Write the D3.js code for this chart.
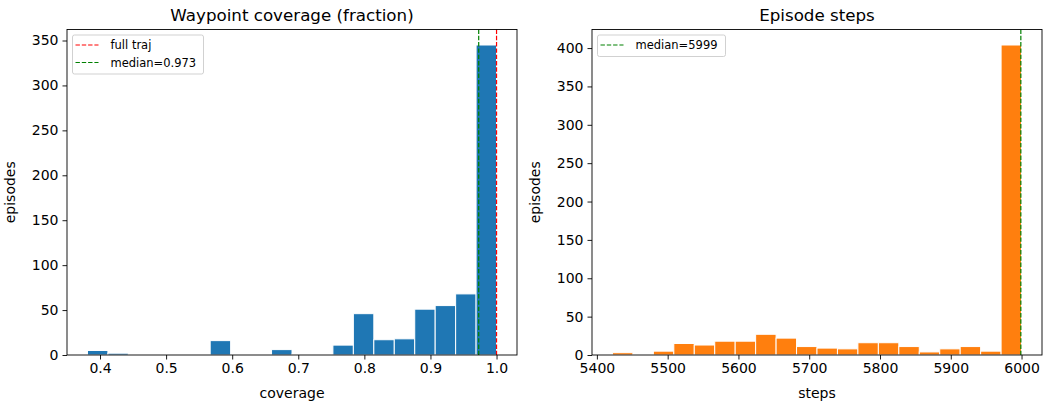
<!DOCTYPE html>
<html>
<head>
<meta charset="utf-8">
<script src="https://cdn.jsdelivr.net/npm/d3@7/dist/d3.min.js"></script>
<style>
  body { margin: 0; background: #fff; }
  svg { font-family: "DejaVu Sans", sans-serif; }
</style>
</head>
<body>
<div id="chart"></div>
<script>
// coverage histogram: 20 bins from 0.381 to 1.0
const coverageRange = [0.381, 1.0];
const coverageCounts = [5, 2, 1, 0, 0, 0, 16, 0, 0, 6, 1, 1, 11, 46, 17, 18, 51, 55, 68, 345];
const coverageTicks = [0.4, 0.5, 0.6, 0.7, 0.8, 0.9, 1.0];
const coverageYTicks = [0, 50, 100, 150, 200, 250, 300, 350];
const coverageLines = [
  { value: 1.0, label: 'full traj', color: '#ff0000' },
  { value: 0.973, label: 'median=0.973', color: '#008000' }
];

// steps histogram: 20 bins from 5422 to 6000
const stepsRange = [5422, 6000];
const stepsCounts = [3, 1, 5, 15, 13, 18, 18, 27, 22, 11, 9, 8, 16, 16, 11, 4, 8, 11, 5, 404];
const stepsTicks = [5400, 5500, 5600, 5700, 5800, 5900, 6000];
const stepsYTicks = [0, 50, 100, 150, 200, 250, 300, 350, 400];
const stepsLines = [
  { value: 5999, label: 'median=5999', color: '#008000' }
];

const width = 1045, height = 403;
const svg = d3.select('#chart').append('svg')
  .attr('width', width)
  .attr('height', height);

function drawHist(opts) {
  const { left, top, w, h, range, counts, xTicks, yTicks, fmt, lines, color, title, xLabel, legendW } = opts;
  const n = counts.length;
  const binW = (range[1] - range[0]) / n;
  const bins = counts.map((c, i) => ({ x0: range[0] + i * binW, x1: range[0] + (i + 1) * binW, count: c }));
  const pad = (range[1] - range[0]) * 0.05;
  const x = d3.scaleLinear().domain([range[0] - pad, range[1] + pad]).range([0, w]);
  const y = d3.scaleLinear().domain([0, d3.max(counts) * 1.05]).range([h, 0]);

  const g = svg.append('g').attr('transform', `translate(${left}, ${top})`);

  // bars
  g.append('g')
    .selectAll('rect')
    .data(bins.filter(d => d.count > 0))
    .join('rect')
      .attr('x', d => x(d.x0))
      .attr('y', d => y(d.count))
      .attr('width', d => x(d.x1) - x(d.x0))
      .attr('height', d => h - y(d.count))
      .attr('fill', color)
      .attr('stroke', '#fff')
      .attr('stroke-width', 1);

  // reference lines
  g.append('g')
    .selectAll('line')
    .data(lines)
    .join('line')
      .attr('x1', d => x(d.value))
      .attr('x2', d => x(d.value))
      .attr('y1', 0)
      .attr('y2', h)
      .attr('stroke', d => d.color)
      .attr('stroke-width', 1.2)
      .attr('stroke-dasharray', '4.4,1.9');

  // axes
  const xAxis = d3.axisBottom(x).tickValues(xTicks).tickFormat(fmt).tickSizeOuter(0).tickSize(4.5).tickPadding(4);
  const yAxis = d3.axisLeft(y).tickValues(yTicks).tickSizeOuter(0).tickSize(4.5).tickPadding(4);
  const gx = g.append('g').attr('transform', `translate(0, ${h})`).call(xAxis);
  const gy = g.append('g').call(yAxis);
  [gx, gy].forEach(a => {
    a.select('.domain').remove();
    a.selectAll('text').attr('font-size', '14px').attr('fill', '#000').style('font-family', '"DejaVu Sans", sans-serif');
    a.selectAll('line').attr('stroke', '#000').attr('stroke-width', 0.9);
  });

  // frame
  g.append('rect')
    .attr('x', 0).attr('y', 0)
    .attr('width', w).attr('height', h)
    .attr('fill', 'none')
    .attr('stroke', '#000')
    .attr('stroke-width', 0.9);

  // title and labels
  g.append('text')
    .attr('x', w / 2).attr('y', -9)
    .attr('text-anchor', 'middle')
    .attr('font-size', '16.7px')
    .text(title);
  g.append('text')
    .attr('x', w / 2).attr('y', h + 43)
    .attr('text-anchor', 'middle')
    .attr('font-size', '14px')
    .text(xLabel);
  g.append('text')
    .attr('transform', `translate(${opts.yLabelX}, ${h / 2}) rotate(-90)`)
    .attr('text-anchor', 'middle')
    .attr('font-size', '14px')
    .text('episodes');

  // legend
  const rowH = 17.5;
  const lg = g.append('g').attr('transform', 'translate(5.5, 5.5)');
  lg.append('rect')
    .attr('width', legendW)
    .attr('height', lines.length * rowH + 4)
    .attr('rx', 2)
    .attr('fill', '#fff')
    .attr('fill-opacity', 0.8)
    .attr('stroke', '#ccc')
    .attr('stroke-width', 0.9);
  lines.forEach((d, i) => {
    const cy = 10 + i * rowH;
    lg.append('line')
      .attr('x1', 3).attr('x2', 26)
      .attr('y1', cy).attr('y2', cy)
      .attr('stroke', d.color)
      .attr('stroke-width', 1.2)
      .attr('stroke-dasharray', '4.4,1.9');
    lg.append('text')
      .attr('x', 38).attr('y', cy + 4)
      .attr('font-size', '11.5px')
      .text(d.label);
  });
}

drawHist({
  left: 67, top: 29.5, w: 450, h: 325.5,
  range: coverageRange, counts: coverageCounts,
  xTicks: coverageTicks, yTicks: coverageYTicks, fmt: d3.format('.1f'),
  lines: coverageLines, color: '#1f77b4',
  title: 'Waypoint coverage (fraction)', xLabel: 'coverage',
  yLabelX: -52, legendW: 131
});

drawHist({
  left: 592, top: 29.5, w: 450, h: 325.5,
  range: stepsRange, counts: stepsCounts,
  xTicks: stepsTicks, yTicks: stepsYTicks, fmt: d3.format('d'),
  lines: stepsLines, color: '#ff7f0e',
  title: 'Episode steps', xLabel: 'steps',
  yLabelX: -52, legendW: 128
});
</script>
</body>
</html>
